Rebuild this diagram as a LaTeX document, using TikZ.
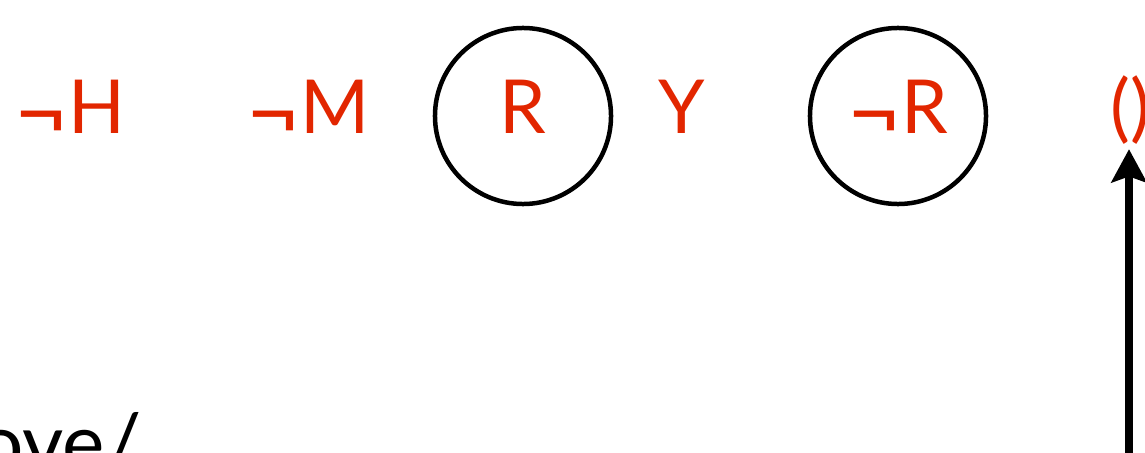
\documentclass[tikz,border=0pt]{standalone}
\usepackage{graphicx}
\usepackage{fontspec}
\setmainfont{Lato}
\usetikzlibrary{arrows.meta}
\definecolor{rosso}{RGB}{226,38,0}
\newcommand{\nego}{\raisebox{-0.15em}{\scalebox{1.25}{¬}}}
\tikzset{
  lettera/.style={text=rosso,font=\fontsize{53}{60}\selectfont,anchor=base,inner sep=0pt},
  anello/.style={draw,circle,line width=3.2pt,minimum size=4.4cm,inner sep=0pt},
  freccia/.style={-{Stealth[length=8.3mm,width=8.8mm,inset=1.5mm]},line width=5pt},
  parola/.style={font=\fontsize{57}{64}\selectfont,anchor=base west,inner sep=0pt}
}
\begin{document}
\begin{tikzpicture}[x=0.025cm,y=-0.025cm]
  \useasboundingbox (0,0) rectangle (1145,453);
  \clip (0,0) rectangle (1145,453);
  % Lettere
  \node[lettera] (nh) at (70,134) {\nego H};
  \node[lettera] (nm) at (308,134) {\nego M};
  \node[lettera] (r) at (523,134) {R};
  \node[lettera] (y) at (682,134) {Y};
  \node[lettera] (nr) at (898,134) {\nego R};
  \node[lettera,anchor=base west] (vuoto) at (1110,134) {()};
  % Cerchi
  \node[anello] (cr) at (523,116) {};
  \node[anello] (cnr) at (898,116) {};
  % Freccia
  \coordinate (piede) at (1129,470);
  \draw[freccia] (piede) -- ([yshift=-0.1cm]piede |- vuoto.south);
  % Testo
  \node[parola] (ove) at (-22,471) {ove/};
\end{tikzpicture}
\end{document}
